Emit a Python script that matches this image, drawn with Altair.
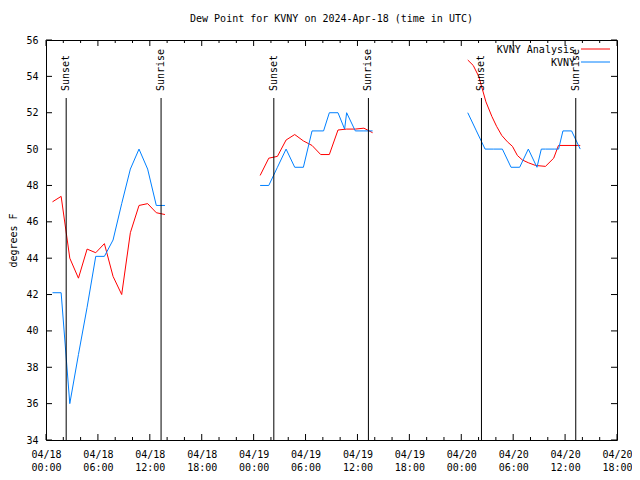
import altair as alt
import pandas as pd

# ---------------- data ----------------
# KVNY Analysis (red)
ana_times = [
    "2024-04-18T00:45", "2024-04-18T01:45", "2024-04-18T02:45", "2024-04-18T03:45",
    "2024-04-18T04:45", "2024-04-18T05:45", "2024-04-18T06:45", "2024-04-18T07:45",
    "2024-04-18T08:45", "2024-04-18T09:45", "2024-04-18T10:45", "2024-04-18T11:45",
    "2024-04-18T12:45", "2024-04-18T13:45",
    "2024-04-19T00:45", "2024-04-19T01:45", "2024-04-19T02:45", "2024-04-19T03:45",
    "2024-04-19T04:45", "2024-04-19T05:45", "2024-04-19T06:45", "2024-04-19T07:45",
    "2024-04-19T08:45", "2024-04-19T09:45", "2024-04-19T10:45", "2024-04-19T11:45",
    "2024-04-19T12:45", "2024-04-19T13:45",
    "2024-04-20T00:45", "2024-04-20T01:23", "2024-04-20T02:01", "2024-04-20T02:51",
    "2024-04-20T03:32", "2024-04-20T04:05", "2024-04-20T04:41", "2024-04-20T05:20",
    "2024-04-20T05:55", "2024-04-20T06:29", "2024-04-20T07:04", "2024-04-20T07:45",
    "2024-04-20T08:35", "2024-04-20T09:44", "2024-04-20T10:41", "2024-04-20T11:14",
    "2024-04-20T13:45",
]
ana_vals = [
    47.1, 47.4, 44.0, 42.9, 44.5, 44.3, 44.8, 43.0, 42.0, 45.4, 46.9, 47.0, 46.5, 46.4,
    48.55, 49.5, 49.6, 50.5, 50.8, 50.45, 50.2, 49.7, 49.7, 51.05, 51.1, 51.1, 51.15, 50.9,
    54.9, 54.6, 54.0, 52.6, 51.8, 51.25, 50.75, 50.4, 50.15, 49.65, 49.4, 49.25,
    49.1, 49.05, 49.5, 50.2, 50.2,
]

# KVNY observations (blue)
obs_times = [
    "2024-04-18T00:45", "2024-04-18T01:45", "2024-04-18T02:45", "2024-04-18T03:45",
    "2024-04-18T04:45", "2024-04-18T05:45", "2024-04-18T06:45", "2024-04-18T07:45",
    "2024-04-18T08:45", "2024-04-18T09:45", "2024-04-18T10:45", "2024-04-18T11:45",
    "2024-04-18T12:45", "2024-04-18T13:45",
    "2024-04-19T00:45", "2024-04-19T01:45", "2024-04-19T02:45", "2024-04-19T03:45",
    "2024-04-19T04:45", "2024-04-19T05:45", "2024-04-19T06:45", "2024-04-19T08:05",
    "2024-04-19T08:45", "2024-04-19T09:45", "2024-04-19T10:31", "2024-04-19T10:45",
    "2024-04-19T11:45", "2024-04-19T12:45", "2024-04-19T13:45",
    "2024-04-20T00:45", "2024-04-20T01:45", "2024-04-20T02:45", "2024-04-20T03:45",
    "2024-04-20T04:45", "2024-04-20T05:45", "2024-04-20T06:45", "2024-04-20T07:45",
    "2024-04-20T08:45", "2024-04-20T09:15", "2024-04-20T09:45", "2024-04-20T10:45",
    "2024-04-20T11:15", "2024-04-20T11:45", "2024-04-20T12:45", "2024-04-20T13:45",
]
obs_vals = [
    42.1, 42.1, 36.0, 38.7, 41.3, 44.1, 44.1, 45.0, 47.0, 48.9, 50.0, 48.9, 46.9, 46.9,
    48.0, 48.0, 49.0, 50.0, 49.0, 49.0, 51.0, 51.0, 52.0, 52.0, 51.1, 52.0, 51.0, 51.0, 51.0,
    52.0, 51.0, 50.0, 50.0, 50.0, 49.0, 49.0, 50.0, 49.0, 50.0, 50.0, 50.0,
    50.0, 51.0, 51.0, 50.0,
]

# Sunset / sunrise markers
sun_times = [
    "2024-04-18T02:20", "2024-04-18T13:18", "2024-04-19T02:20",
    "2024-04-19T13:16", "2024-04-20T02:20", "2024-04-20T13:14",
]
sun_labels = ["Sunset", "Sunrise", "Sunset", "Sunrise", "Sunset", "Sunrise"]

# Axis ticks
x_major_hours = list(range(0, 67, 6))
x_minor_hours = [h for h in range(0, 67, 2) if h % 6 != 0]
y_ticks = [34, 36, 38, 40, 42, 44, 46, 48, 50, 52, 54, 56]

series_names = ["KVNY Analysis", "KVNY"]
series_colors = ["#ff0000", "#0080ff"]

# ---------------- build tables ----------------
def series_df(times, vals):
    df = pd.DataFrame({"t": [s + ":00Z" for s in times], "v": vals})
    ts = pd.to_datetime(df["t"])
    df["seg"] = (ts.diff() > pd.Timedelta(hours=4)).cumsum()
    return df

def hour_str(h):
    return f"2024-04-{18 + h // 24:02d}T{h % 24:02d}:00:00Z"

ana_df = series_df(ana_times, ana_vals)
obs_df = series_df(obs_times, obs_vals)
sun_df = pd.DataFrame({"t": [s + ":00Z" for s in sun_times], "label": sun_labels})
xmaj_df = pd.DataFrame({"t": [hour_str(h) for h in x_major_hours]})
xmin_df = pd.DataFrame({"t": [hour_str(h) for h in x_minor_hours]})
yt_df = pd.DataFrame({"v": y_ticks})

W, H = 571, 400
FONT = "DejaVu Sans Mono"

xscale = alt.Scale(
    type="utc",
    domain=[
        alt.DateTime(year=2024, month=4, date=18, hours=0, utc=True),
        alt.DateTime(year=2024, month=4, date=20, hours=18, utc=True),
    ],
    nice=False,
)
xaxis = alt.Axis(
    values=[
        alt.DateTime(year=2024, month=4, date=18 + h // 24, hours=h % 24, utc=True)
        for h in x_major_hours
    ],
    labelExpr="[utcFormat(datum.value, '%m/%d'), utcFormat(datum.value, '%H:%M')]",
    labelPadding=9,
    labelLineHeight=13,
    labelOverlap=False,
    labelFlush=False,
    labelBaseline="top",
)
yscale = alt.Scale(domain=[34, 56], nice=False, zero=False)
yaxis = alt.Axis(
    values=y_ticks,
    labelPadding=8,
    titleX=-33,
    titleY=H / 2,
    titleAngle=270,
    titleAlign="center",
    titleBaseline="middle",
)

X = alt.X("t:T", scale=xscale, axis=xaxis, title=None)
Y = alt.Y("v:Q", scale=yscale, axis=yaxis, title="degrees F")

ana_line = alt.Chart(ana_df).mark_line(color=series_colors[0], strokeWidth=1).encode(
    x=X, y=Y, detail="seg:N"
)
obs_line = alt.Chart(obs_df).mark_line(color=series_colors[1], strokeWidth=1).encode(
    x=X, y=Y, detail="seg:N"
)

sun_rule = alt.Chart(sun_df).mark_rule(color="black", strokeWidth=1).encode(
    x=X, y=alt.value(58), y2=alt.value(H)
)
sun_text = alt.Chart(sun_df).mark_text(
    angle=270, align="left", baseline="middle", font=FONT, fontSize=10, color="black", dx=1
).encode(x=X, y=alt.value(52), text="label:N")

xmaj_bot = alt.Chart(xmaj_df).mark_rule(color="black").encode(
    x=X, y=alt.value(H - 6), y2=alt.value(H)
)
xmaj_top = alt.Chart(xmaj_df).mark_rule(color="black").encode(
    x=X, y=alt.value(0), y2=alt.value(6)
)
xmin_bot = alt.Chart(xmin_df).mark_rule(color="black").encode(
    x=X, y=alt.value(H - 3), y2=alt.value(H)
)
xmin_top = alt.Chart(xmin_df).mark_rule(color="black").encode(
    x=X, y=alt.value(0), y2=alt.value(3)
)
yt_left = alt.Chart(yt_df).mark_rule(color="black").encode(
    y=Y, x=alt.value(0), x2=alt.value(6)
)
yt_right = alt.Chart(yt_df).mark_rule(color="black").encode(
    y=Y, x=alt.value(W - 6), x2=alt.value(W)
)

# legend (top right, text left of the line sample, as in the reference)
leg_layers = []
for i, (name, col) in enumerate(zip(series_names, series_colors)):
    ly = 10 + 13 * i
    leg_df = pd.DataFrame({"name": [name]})
    leg_layers.append(
        alt.Chart(leg_df).mark_text(
            align="right", baseline="middle", font=FONT, fontSize=10, color="black"
        ).encode(text="name:N", x=alt.value(W - 42), y=alt.value(ly))
    )
    leg_layers.append(
        alt.Chart(leg_df).mark_rule(color=col, strokeWidth=1).encode(
            x=alt.value(W - 36), x2=alt.value(W - 7), y=alt.value(ly - 1)
        )
    )

chart = alt.layer(
    ana_line, obs_line, sun_rule, sun_text,
    xmaj_bot, xmaj_top, xmin_bot, xmin_top, yt_left, yt_right,
    *leg_layers,
).properties(
    width=W,
    height=H,
    title=alt.TitleParams(
        "Dew Point for KVNY on 2024-Apr-18 (time in UTC)",
        font=FONT, fontSize=10, fontWeight="normal", anchor="middle", offset=11, color="black",
    ),
    autosize=alt.AutoSizeParams(type="none"),
    padding={"left": 38, "top": 32, "right": 15, "bottom": 32},
    background="white",
).configure_view(
    stroke="black", strokeWidth=1
).configure_axis(
    domain=False, ticks=False, tickSize=0, grid=False,
    labelFont=FONT, labelFontSize=10, labelColor="black",
    titleFont=FONT, titleFontSize=10, titleFontWeight="normal", titleColor="black",
)

chart.save("out.html", embed_options={"renderer": "svg", "actions": False})
